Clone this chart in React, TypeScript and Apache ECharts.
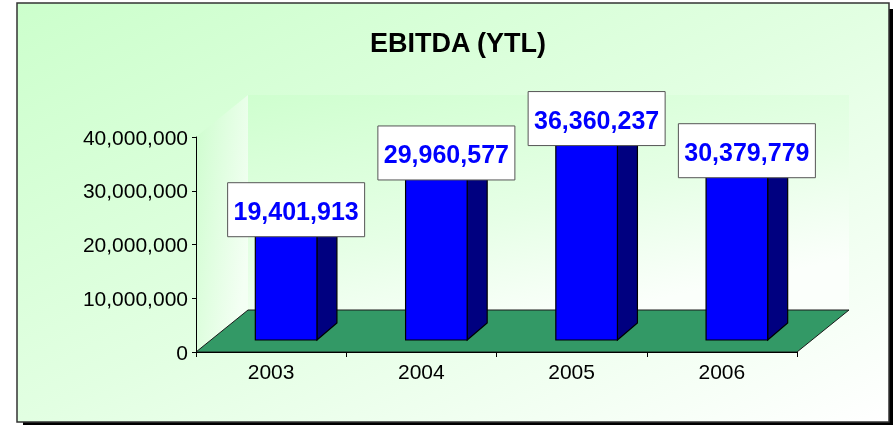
import React, { useEffect, useRef } from 'react';
import * as echarts from 'echarts';

// ---- data ----
const categories: string[] = ['2003', '2004', '2005', '2006'];
const ebitda: number[] = [19401913, 29960577, 36360237, 30379779];
const yMin = 0;
const yMax = 40000000;
const yInterval = 10000000;
const chartTitle = 'EBITDA (YTL)';

// ---- style constants ----
const FONT = '"Liberation Sans", Arial, Helvetica, sans-serif';
const FLOOR_DX = 52; // depth of the 3D floor
const FLOOR_DY = 42;
const BAR_FRONT_DX = 15; // bars sit a little back from the front plane
const BAR_FRONT_DY = 12;
const BAR_DX = 20; // depth of each bar
const BAR_DY = 17;
const BAR_WIDTH_RATIO = 0.41;
const LABEL_W = 137;
const LABEL_H = 54;

const fmt = (v: number) => v.toLocaleString('en-US');

export default function App() {
  const ref = useRef<HTMLDivElement>(null);

  useEffect(() => {
    if (!ref.current) return;
    const chart = echarts.init(ref.current, undefined, { renderer: 'svg' });

    const wallsRender = (params: any, api: any) => {
      const cs = params.coordSys;
      const x0 = cs.x;
      const yTop = cs.y;
      const w = cs.width;
      const yB = cs.y + cs.height;
      return {
        type: 'group',
        children: [
          {
            type: 'polygon',
            shape: {
              points: [
                [x0, yB],
                [x0 + FLOOR_DX, yB - FLOOR_DY],
                [x0 + FLOOR_DX, yTop - FLOOR_DY],
                [x0, yTop],
              ],
            },
            style: {
              fill: {
                type: 'linear', x: 0, y: 0, x2: 1, y2: 0.6,
                colorStops: [
                  { offset: 0, color: '#cdfdcd' },
                  { offset: 1, color: '#f4fff4' },
                ],
              },
            },
          },
          {
            type: 'rect',
            shape: { x: x0 + FLOOR_DX, y: yTop - FLOOR_DY, width: w, height: cs.height },
            style: {
              fill: {
                type: 'linear', x: 0, y: 0, x2: 0.6, y2: 1,
                colorStops: [
                  { offset: 0, color: '#cfffcf' },
                  { offset: 0.6, color: '#e6ffe6' },
                  { offset: 1, color: '#fbfffb' },
                ],
              },
            },
          },
          {
            type: 'polygon',
            shape: {
              points: [
                [x0, yB],
                [x0 + w, yB],
                [x0 + w + FLOOR_DX, yB - FLOOR_DY],
                [x0 + FLOOR_DX, yB - FLOOR_DY],
              ],
            },
            style: { fill: '#339966', stroke: '#1a1a1a', lineWidth: 1 },
          },
        ],
      };
    };

    const barsRender = (params: any, api: any) => {
      const idx = api.value(0);
      const val = api.value(1);
      const [cx, y0] = api.coord([idx, 0]);
      const [, yv] = api.coord([idx, val]);
      const bw = api.size([1, 0])[0] * BAR_WIDTH_RATIO;
      const fx = cx + BAR_FRONT_DX - bw / 2;
      const fb = y0 - BAR_FRONT_DY;
      const ft = yv - BAR_FRONT_DY;
      const boxCx = fx + (bw + BAR_DX) / 2;
      const boxBottom = ft + 1;
      return {
        type: 'group',
        children: [
          {
            type: 'polygon',
            shape: {
              points: [
                [fx + bw, fb],
                [fx + bw + BAR_DX, fb - BAR_DY],
                [fx + bw + BAR_DX, ft - BAR_DY],
                [fx + bw, ft],
              ],
            },
            style: { fill: '#000080', stroke: '#000', lineWidth: 1.2 },
          },
          {
            type: 'polygon',
            shape: {
              points: [
                [fx, ft],
                [fx + BAR_DX, ft - BAR_DY],
                [fx + bw + BAR_DX, ft - BAR_DY],
                [fx + bw, ft],
              ],
            },
            style: { fill: '#00009a', stroke: '#000', lineWidth: 1.2 },
          },
          {
            type: 'rect',
            shape: { x: fx, y: ft, width: bw, height: fb - ft },
            style: { fill: '#0000ff', stroke: '#000', lineWidth: 1.2 },
          },
          {
            type: 'rect',
            shape: {
              x: boxCx - LABEL_W / 2,
              y: boxBottom - LABEL_H,
              width: LABEL_W,
              height: LABEL_H,
            },
            style: { fill: '#ffffff', stroke: '#555555', lineWidth: 1 },
          },
          {
            type: 'text',
            style: {
              text: fmt(val),
              x: boxCx,
              y: boxBottom - LABEL_H / 2 + 1,
              align: 'center',
              verticalAlign: 'middle',
              fill: '#0000ff',
              fontSize: 25,
              fontWeight: 'bold',
              fontFamily: FONT,
            },
          },
        ],
      };
    };

    const option: any = {
      animation: false,
      title: {
        text: chartTitle,
        left: 365,
        top: 24,
        textStyle: { fontSize: 27, fontWeight: 'bold', color: '#000', fontFamily: FONT },
      },
      graphic: [
        {
          type: 'rect',
          z: -10,
          shape: { x: 23, y: 9, width: 872, height: 419 },
          style: { fill: '#000' },
        },
        {
          type: 'rect',
          z: -9,
          shape: { x: 17, y: 3, width: 872, height: 419 },
          style: {
            fill: {
              type: 'linear', x: 0, y: 0, x2: 1, y2: 1,
              colorStops: [
                { offset: 0, color: '#ccffcc' },
                { offset: 0.5, color: '#e2ffe2' },
                { offset: 1, color: '#ffffff' },
              ],
            },
            stroke: '#333333',
            lineWidth: 1.5,
          },
        },
      ],
      grid: { left: 196, top: 137, width: 601, height: 215, containLabel: false },
      xAxis: {
        type: 'category',
        data: categories,
        z: 3,
        boundaryGap: true,
        axisLine: { show: true, lineStyle: { color: '#000', width: 1 } },
        axisTick: { show: true, length: 5, lineStyle: { color: '#000' } },
        axisLabel: { color: '#000', fontSize: 21, fontFamily: FONT, margin: 9 },
        splitLine: { show: false },
      },
      yAxis: {
        type: 'value',
        min: yMin,
        max: yMax,
        interval: yInterval,
        z: 3,
        axisLine: { show: true, lineStyle: { color: '#000', width: 1 } },
        axisTick: { show: true, length: 4, lineStyle: { color: '#000' } },
        axisLabel: {
          color: '#000',
          fontSize: 21,
          fontFamily: FONT,
          margin: 8,
          formatter: (v: number) => fmt(v),
        },
        splitLine: { show: false },
      },
      series: [
        {
          type: 'custom',
          name: 'walls',
          z: 1,
          clip: false,
          silent: true,
          renderItem: wallsRender,
          data: [[0, 0]],
          encode: { x: 0, y: 1 },
        },
        {
          type: 'custom',
          name: 'EBITDA',
          z: 4,
          clip: false,
          renderItem: barsRender,
          data: ebitda.map((v, i) => [i, v]),
          encode: { x: 0, y: 1 },
        },
      ],
    };

    chart.setOption(option);
    return () => chart.dispose();
  }, []);

  return (
    <div
      ref={ref}
      style={{ position: 'fixed', left: 0, top: 0, width: 893, height: 425 }}
    />
  );
}
